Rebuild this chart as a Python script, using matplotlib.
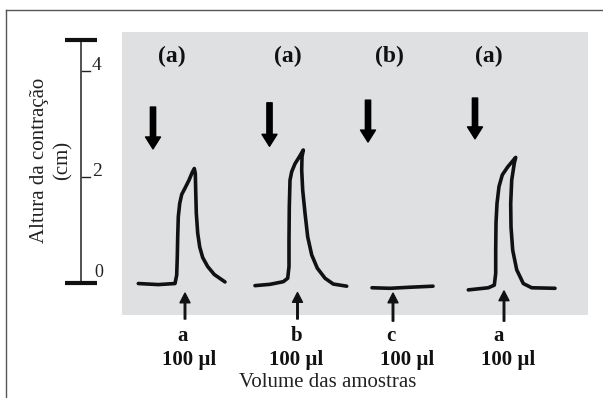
import matplotlib
matplotlib.use("Agg")
import matplotlib.pyplot as plt
from matplotlib.lines import Line2D
from matplotlib.patches import Rectangle

plt.rcParams['font.family'] = ['Liberation Serif', 'DejaVu Serif']

# ---------------- data ----------------
# contraction traces: x = recording position (arbitrary chart units), y = height (cm)
trace1_x = [138.3, 158.3, 175, 176.7, 177.3, 177.7, 178.3, 179.7, 181.7, 185, 189,
            192.3, 194.3, 195.3, 195.7, 196.3, 197.7, 199.7, 202.7, 207.7, 214.3, 225]
trace1_y = [-0.01, -0.03, -0.01, 0.15, 0.50, 0.87, 1.25, 1.50, 1.67, 1.79, 1.94,
            2.09, 2.16, 2.07, 1.75, 1.32, 0.94, 0.68, 0.48, 0.31, 0.16, 0.02]

trace2_x = [255, 270, 283.3, 287.7, 289, 289, 289.3, 290, 291.7, 295, 299.3,
            303.3, 302, 301.7, 302.7, 305, 307.7, 311.7, 317.3, 325, 333.3, 346.7]
trace2_y = [-0.05, -0.025, 0.025, 0.09, 0.31, 0.81, 1.44, 1.94, 2.10, 2.25, 2.38,
            2.51, 2.38, 2.13, 1.75, 1.32, 0.87, 0.53, 0.28, 0.09, -0.02, -0.06]

trace3_x = [372, 390, 410, 433]
trace3_y = [-0.09, -0.10, -0.08, -0.06]

trace4_x = [468.3, 488.3, 494.3, 495.7, 495.7, 496, 497, 499, 502.3, 507.7,
            515.7, 514.3, 511.7, 510.7, 511, 512.7, 516.7, 523.3, 531.7, 555]
trace4_y = [-0.13, -0.09, -0.04, 0.18, 0.62, 1.13, 1.50, 1.82, 2.04, 2.19,
            2.37, 2.26, 1.94, 1.50, 1.06, 0.62, 0.25, -0.01, -0.09, -0.10]

traces = [(trace1_x, trace1_y), (trace2_x, trace2_y),
          (trace3_x, trace3_y), (trace4_x, trace4_y)]

group_labels = ["(a)", "(a)", "(b)", "(a)"]
group_label_x = [172, 288, 389, 489]

sample_letters = ["a", "b", "c", "a"]
sample_letter_x = [183, 297, 391, 499]
volume_labels = ["100 µl", "100 µl", "100 µl", "100 µl"]
volume_label_x = [189, 296, 407, 508]

# big down arrows (x, top, tip) in cm
down_x = [153, 269.5, 368, 475]
down_top = [3.32, 3.40, 3.45, 3.49]
down_tip = [2.53, 2.58, 2.66, 2.72]

# small up arrows at sample injection
up_x = [185, 297.5, 393, 504]
up_tip = [-0.19, -0.18, -0.19, -0.15]
up_base = [-0.68, -0.68, -0.72, -0.72]

yticks = [0, 2, 4]
ytick_labels = ["0", "2", "4"]

xlabel = "Volume das amostras"
ylabel = "Altura da contração"
yunit = "(cm)"

# ---------------- figure ----------------
W, H = 603, 398
fig = plt.figure(figsize=(W / 100, H / 100), dpi=100)
fig.patch.set_facecolor('white')
ax = fig.add_axes([0, 0, 1, 1])
ppcm = 53.0
ax.set_xlim(0, W)
ax.set_ylim(-(H - 283) / ppcm, 283 / ppcm)
ax.axis('off')

# frame lines (top and left)
fig.add_artist(Line2D([6 / W, 1], [1 - 10 / H, 1 - 10 / H], color='#555555', lw=1.0))
fig.add_artist(Line2D([6 / W, 6 / W], [0, 1 - 10 / H], color='#555555', lw=1.0))

# gray panel
ax.add_patch(Rectangle((122, -0.60), 588 - 122, 4.74 + 0.60,
                       facecolor='#dfe0e2', edgecolor='none', zorder=0))

# traces
for tx, ty in traces:
    ax.plot(tx, ty, color='#111111', lw=2.6, solid_capstyle='round',
            solid_joinstyle='round', zorder=3)

# y scale bar
ax.plot([81, 81], [0, 4.58], color='#222222', lw=1.1, zorder=2)
ax.plot([65, 97], [4.58, 4.58], color='#111111', lw=3.0, solid_capstyle='butt')
ax.plot([65, 97], [0, 0], color='#111111', lw=3.0, solid_capstyle='butt')
for t, lab in zip(yticks, ytick_labels):
    if t != 0:
        ax.plot([82, 90], [t, t], color='#222222', lw=1.0)
        ax.text(92, t - 0.06, lab, fontsize=14, ha='left', va='bottom', color='#222222')
    else:
        ax.text(94, t + 0.03, lab, fontsize=13, ha='left', va='bottom', color='#222222')

ax.text(40, 2.32, ylabel, rotation=90, fontsize=15, ha='center', va='center', color='#222222')
ax.text(63, 2.32, yunit, rotation=90, fontsize=15, ha='center', va='center', color='#222222')

# group labels
for gx, gl in zip(group_label_x, group_labels):
    ax.text(gx, 4.28, gl, fontsize=17, fontweight='bold', ha='center', va='center', color='#111111')

# down arrows
for x, t0, t1 in zip(down_x, down_top, down_tip):
    ax.annotate('', xy=(x, t1), xytext=(x, t0),
                arrowprops=dict(arrowstyle='simple,head_width=1.08,head_length=0.86,tail_width=0.38',
                                color='#000000', shrinkA=0, shrinkB=0, mutation_scale=10))

# up arrows
for x, t1, t0 in zip(up_x, up_tip, up_base):
    ax.annotate('', xy=(x, t1), xytext=(x, t0),
                arrowprops=dict(arrowstyle='simple,head_width=0.72,head_length=0.7,tail_width=0.11',
                                color='#111111', shrinkA=0, shrinkB=0, mutation_scale=10))

# sample labels
for x, s in zip(sample_letter_x, sample_letters):
    ax.text(x, -1.0, s, fontsize=15, fontweight='bold', ha='center', va='center', color='#111111')
for x, s in zip(volume_label_x, volume_labels):
    ax.text(x, -1.45, s, fontsize=15, fontweight='bold', ha='center', va='center', color='#111111')

ax.text(328, -1.87, xlabel, fontsize=15, ha='center', va='center', color='#222222')

fig.savefig('out.png', dpi=100, facecolor='white')
